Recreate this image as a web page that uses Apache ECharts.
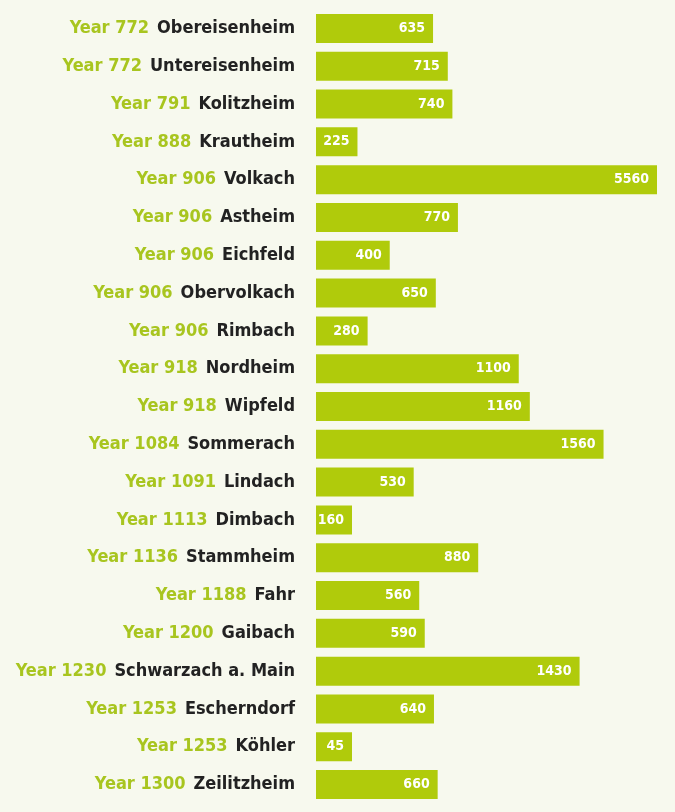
<!DOCTYPE html>
<html>
<head>
<meta charset="utf-8">
<script src="https://cdn.jsdelivr.net/npm/echarts@6/dist/echarts.min.js"></script>
<style>
  html, body { margin: 0; padding: 0; background: #f7f9ee; }
  #main { width: 675px; height: 812px; }
</style>
</head>
<body>
<div id="main"></div>
<script>
const years = ["772", "772", "791", "888", "906", "906", "906", "906", "906", "918", "918",
  "1084", "1091", "1113", "1136", "1188", "1200", "1230", "1253", "1253", "1300"];
const places = ["Obereisenheim", "Untereisenheim", "Kolitzheim", "Krautheim", "Volkach", "Astheim",
  "Eichfeld", "Obervolkach", "Rimbach", "Nordheim", "Wipfeld", "Sommerach", "Lindach", "Dimbach",
  "Stammheim", "Fahr", "Gaibach", "Schwarzach a. Main", "Escherndorf", "Köhler", "Zeilitzheim"];
const inhabitants = [635, 715, 740, 225, 5560, 770, 400, 650, 280, 1100, 1160,
  1560, 530, 160, 880, 560, 590, 1430, 640, 45, 660];

// condensed bold, ECharts puts fontWeight straight into the canvas font string
const font = "'Liberation Sans Narrow', 'DejaVu Sans', sans-serif";
const weight = "bold condensed";

var chart = echarts.init(document.getElementById("main"));
var option = {
  backgroundColor: "#f7f9ee",
  grid: {
    left: 316,
    right: 18,
    top: 9.5,
    bottom: 8.5,
    containLabel: false,
    outerBoundsMode: "none",
  },
  xAxis: {
    type: "value",
    min: 0,
    max: 1850,
    show: false,
  },
  yAxis: {
    type: "category",
    inverse: true,
    data: places,
    axisLine: { show: false },
    axisTick: { show: false },
    splitLine: { show: false },
    axisLabel: {
      margin: 21,
      formatter: function (value, index) {
        return "{y|Year " + years[index] + "}{n|" + value + "}";
      },
      rich: {
        y: {
          color: "#a8c51f",
          fontFamily: font,
          fontWeight: weight,
          fontSize: 18,
          padding: [0, 8, 0, 0],
        },
        n: {
          color: "#222222",
          fontFamily: font,
          fontWeight: weight,
          fontSize: 18,
        },
      },
    },
  },
  series: [
    {
      type: "bar",
      data: inhabitants,
      barWidth: 29,
      barMinHeight: 36,
      clip: true,
      silent: true,
      itemStyle: { color: "#b0cb0b" },
      label: {
        show: true,
        position: "insideRight",
        distance: 8,
        color: "#ffffff",
        fontFamily: font,
        fontWeight: weight,
        fontSize: 14,
      },
    },
  ],
};
chart.setOption(option);
</script>
</body>
</html>
